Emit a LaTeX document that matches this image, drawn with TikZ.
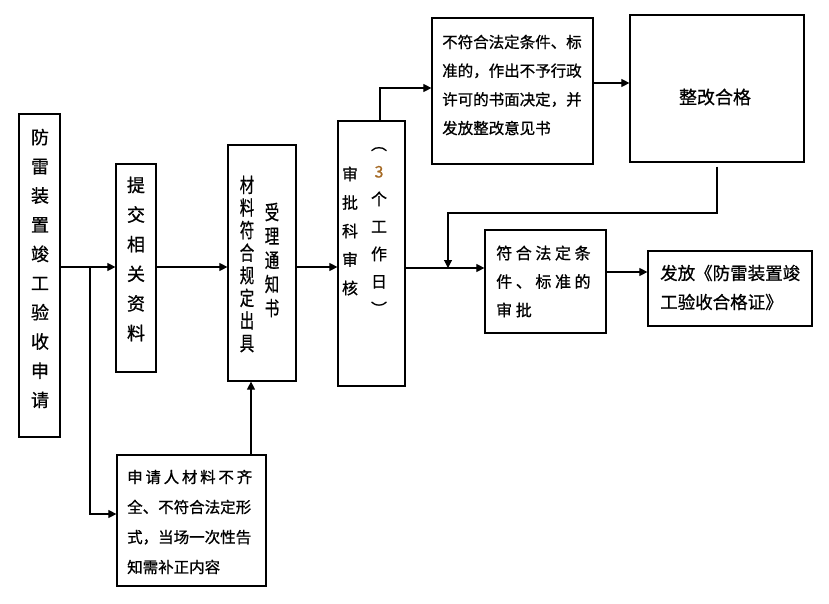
\documentclass[tikz,border=0pt]{standalone}
\usepackage{fontspec}
\setmainfont{Noto Sans CJK SC}[RawFeature={embolden=0.8}]
\usetikzlibrary{arrows.meta}
\definecolor{digit}{RGB}{165,105,35}
\newcommand\hs{\hspace{3.6pt}}
\begin{document}
\begin{tikzpicture}[x=1pt,y=-1pt,
  box/.style={draw, line width=1.2pt, rectangle, inner sep=0pt},
  arr/.style={line width=1.1pt, -{Triangle[length=8pt,width=8pt]}},
  ln/.style={line width=1.1pt},
  txt/.style={inner sep=0pt, align=left},
  vtxt/.style={inner sep=0pt, align=center}]
\fill[white] (0,0) rectangle (829,604);
\useasboundingbox (0,0) rectangle (829,604);

% boxes
\node[box, minimum width=41pt,  minimum height=323pt] (A) at (39.5,275.5) {};
\node[box, minimum width=40pt,  minimum height=208pt] (B) at (136,268) {};
\node[box, minimum width=68pt,  minimum height=236pt] (C) at (262,263) {};
\node[box, minimum width=67pt,  minimum height=265pt] (D) at (371.5,253.5) {};
\node[box, minimum width=161pt, minimum height=146pt] (F) at (512.5,91) {};
\node[box, minimum width=174pt, minimum height=147pt] (G) at (717,88.5) {};
\node[box, minimum width=121pt, minimum height=103pt] (H) at (545.5,281.5) {};
\node[box, minimum width=164pt, minimum height=75pt]  (I) at (730,288.5) {};
\node[box, minimum width=149pt, minimum height=131pt] (E) at (191.5,520.5) {};

% texts
\node[vtxt, font=\fontsize{18}{29.2}\selectfont] (At) at (40,268.5)
  {防\\雷\\装\\置\\竣\\工\\验\\收\\申\\请};
\node[vtxt, font=\fontsize{18}{29.6}\selectfont] (Bt) at (136,259)
  {提\\交\\相\\关\\资\\料};
\node[vtxt, xscale=0.72, transform shape, font=\fontsize{20}{22.6}\selectfont] (Ct1) at (247,264)
  {材\\料\\符\\合\\规\\定\\出\\具};
\node[vtxt, xscale=0.72, transform shape, font=\fontsize{20}{24}\selectfont] (Ct2) at (272,260)
  {受\\理\\通\\知\\书};
\node[vtxt, font=\fontsize{16}{28.5}\selectfont] (Dt1) at (350,231)
  {审\\批\\科\\审\\核};
\node[vtxt, font=\fontsize{16}{27.5}\selectfont] (Dt2) at (379,231)
  {︵\\{\color{digit}3}\\个\\工\\作\\日\\︶};
\node[txt, anchor=west, font=\fontsize{15.5}{28.7}\selectfont] (Ft) at (442,85)
  {不符合法定条件、标\\准的，作出不予行政\\许可的书面决定，并\\发放整改意见书};
\node[txt, font=\fontsize{18}{22}\selectfont] (Gt) at (715,97) {整改合格};
\node[txt, anchor=west, font=\fontsize{16}{28.5}\selectfont] (Ht) at (496,281.5)
  {符\hs 合\hs 法\hs 定\hs 条\\件\hs 、\hs 标\hs 准\hs 的\\审\hs 批};
\node[txt, anchor=west, font=\fontsize{17.5}{29}\selectfont] (It) at (660,287.5)
  {发放《防雷装置竣\\工验收合格证》};
\node[txt, anchor=west, font=\fontsize{15.5}{30}\selectfont] (Et) at (127,522)
  {\makebox[125pt][s]{申\hfill 请\hfill 人\hfill 材\hfill 料\hfill 不\hfill 齐}\\全、不符合法定形\\式，当场一次性告\\知需补正内容};

% connectors
\coordinate (j1) at (90,267);
\coordinate (m) at (448,268);
\draw[ln] (A.east |- j1) -- (j1);
\draw[arr] (j1) -- (B.west |- j1);
\draw[arr] (j1) |- ([yshift=6.5pt]E.west);
\draw[arr] (B.east |- j1) -- (C.west |- j1);
\draw[arr] (C.east |- j1) -- (D.west |- j1);
\draw[arr] ([xshift=-11pt]C.south |- E.north) -- ([xshift=-11pt]C.south);
\draw[arr] ([xshift=8.5pt]D.north) |- (F.west |- 0,88);
\draw[arr] (F.east |- 0,83) -- (G.west |- 0,83);
\draw[arr] ([yshift=-4pt]G.south) |- (m |- 0,213) -- (m);
\draw[arr] (D.east |- m) -- (H.west |- m);
\draw[arr] (H.east |- 0,272) -- (I.west |- 0,272);
\end{tikzpicture}
\end{document}
